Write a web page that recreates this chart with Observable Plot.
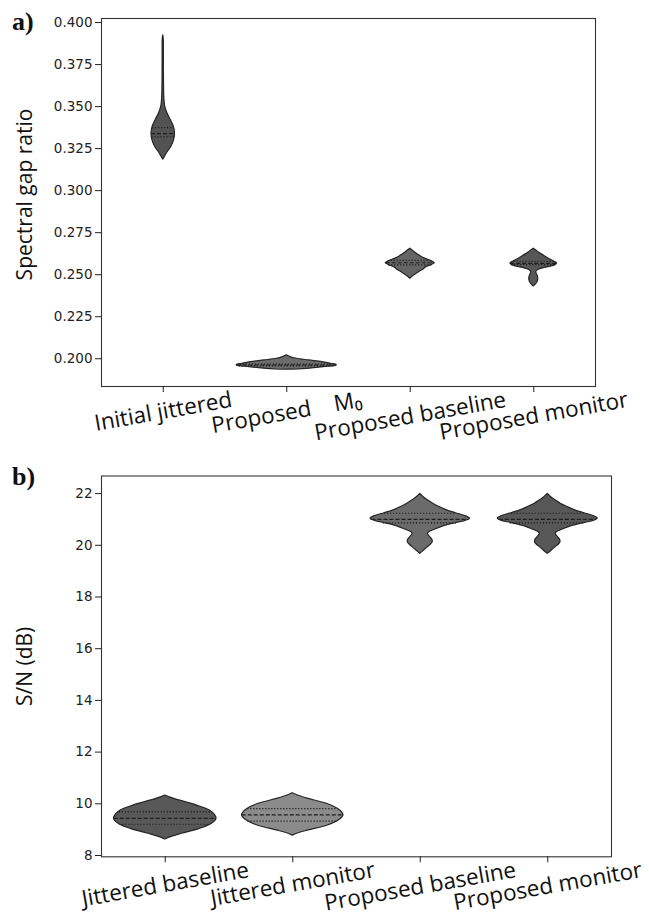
<!DOCTYPE html>
<html><head><meta charset="utf-8">
<script src="https://cdn.jsdelivr.net/npm/d3@7"></script>
<script src="https://cdn.jsdelivr.net/npm/@observablehq/plot@0.6"></script>
<style>
body{margin:0;background:#fff;}
#wrap{position:relative;width:649px;height:918px;overflow:hidden;}
.panel{position:absolute;left:0;}
.tag{position:absolute;font-family:"Liberation Serif","Times New Roman",serif;font-weight:bold;font-size:26px;line-height:1;color:#111;z-index:2;}
</style></head><body>
<div id="wrap">
<div id="pa" class="panel" style="top:0"></div>
<div id="pb" class="panel" style="top:460px"></div>
<div class="tag" style="left:12px;top:9px">a)</div>
<div class="tag" style="left:12px;top:464px">b)</div>
</div>
<script>
// ---------- Panel a data ----------
const catsA = ["Initial jittered", "Proposed\u00A0\u00A0\u00A0\u00A0M\u2080", "Proposed baseline", "Proposed monitor"];
const yTicksA = [0.200, 0.225, 0.250, 0.275, 0.300, 0.325, 0.350, 0.375, 0.400];
const yLabelA = "Spectral gap ratio";
const fillsA = ["#535353", "#6c6c6c", "#656565", "#575757"];
// violin profiles: [value, half-width (category units)]
const profInitialJittered = [[0.3185,0],[0.3200,0.013],[0.3230,0.036],[0.3260,0.065],[0.3300,0.088],[0.3340,0.095],[0.3380,0.086],[0.3420,0.061],[0.3460,0.034],[0.3500,0.016],[0.3550,0.009],[0.3650,0.006],[0.3800,0.005],[0.3900,0.004],[0.3924,0]];
const profProposedM0 = [[0.1935,0],[0.1940,0.16],[0.1950,0.30],[0.1960,0.405],[0.1965,0.40],[0.1970,0.36],[0.1980,0.29],[0.1990,0.18],[0.2000,0.081],[0.2010,0.03],[0.2020,0]];
const profPropBaselineA = [[0.2476,0],[0.2490,0.022],[0.2500,0.040],[0.2516,0.073],[0.2530,0.105],[0.2545,0.130],[0.2558,0.175],[0.2569,0.199],[0.2578,0.180],[0.2589,0.142],[0.2600,0.105],[0.2615,0.073],[0.2630,0.042],[0.2645,0.018],[0.2655,0]];
const profPropMonitorA = [[0.2430,0],[0.2440,0.014],[0.2455,0.030],[0.2470,0.036],[0.2485,0.035],[0.2500,0.028],[0.2515,0.020],[0.2530,0.040],[0.2545,0.120],[0.2557,0.175],[0.2566,0.189],[0.2578,0.165],[0.2590,0.135],[0.2602,0.105],[0.2615,0.078],[0.2630,0.045],[0.2645,0.018],[0.2655,0]];
// quartiles [Q1, median, Q3]
const quartInitialJittered = [0.3320, 0.3339, 0.3375];
const quartProposedM0 = [0.1958, 0.1963, 0.1968];
const quartPropBaselineA = [0.2558, 0.2571, 0.2585];
const quartPropMonitorA = [0.2560, 0.2567, 0.2580];

// ---------- Panel b data ----------
const catsB = ["Jittered baseline", "Jittered monitor", "Proposed baseline", "Proposed monitor"];
const yTicksB = [8, 10, 12, 14, 16, 18, 20, 22];
const yLabelB = "S/N (dB)";
const fillsB = ["#585858", "#8b8b8b", "#6b6b6b", "#575757"];
const profJitBaseline = [[8.62,0],[8.72,0.05],[8.84,0.13],[9.03,0.27],[9.23,0.366],[9.42,0.402],[9.55,0.392],[9.74,0.35],[9.93,0.25],[10.13,0.11],[10.25,0.035],[10.32,0]];
const profJitMonitor = [[8.77,0],[8.87,0.05],[8.97,0.125],[9.16,0.275],[9.35,0.36],[9.55,0.398],[9.68,0.385],[9.81,0.353],[10.0,0.268],[10.19,0.124],[10.32,0.04],[10.41,0]];
const profPropBaselineB = [[19.67,0],[19.80,0.03],[19.92,0.058],[20.02,0.082],[20.12,0.098],[20.22,0.094],[20.33,0.076],[20.44,0.06],[20.52,0.075],[20.60,0.115],[20.73,0.18],[20.86,0.28],[20.95,0.36],[21.03,0.39],[21.12,0.36],[21.24,0.28],[21.35,0.21],[21.47,0.155],[21.60,0.105],[21.73,0.063],[21.85,0.03],[21.99,0]];
const profPropMonitorB = [[19.67,0],[19.80,0.032],[19.92,0.06],[20.02,0.085],[20.12,0.1],[20.22,0.096],[20.33,0.078],[20.44,0.062],[20.52,0.076],[20.60,0.115],[20.73,0.18],[20.86,0.285],[20.95,0.365],[21.04,0.392],[21.13,0.36],[21.25,0.28],[21.36,0.21],[21.48,0.155],[21.60,0.105],[21.73,0.063],[21.85,0.03],[21.99,0]];
const quartJitBaseline = [9.21, 9.44, 9.69];
const quartJitMonitor = [9.33, 9.57, 9.81];
const quartPropBaselineB = [20.87, 21.00, 21.24];
const quartPropMonitorB = [20.87, 21.00, 21.24];

// ---------- helpers ----------
function hwAt(prof, v) {
  for (let i = 1; i < prof.length; i++) {
    const [v0, w0] = prof[i-1], [v1, w1] = prof[i];
    if (v >= v0 && v <= v1) return w0 + (w1 - w0) * (v - v0) / (v1 - v0);
  }
  return 0;
}
const canvas = document.createElement("canvas");
const ctx = canvas.getContext("2d");
const LABEL_FS = 22.5, ROT = 10;
function labelDy(text) {
  ctx.font = `${LABEL_FS}px "Open Sans"`;
  const w = ctx.measureText(text).width;
  const h = LABEL_FS * 1.05;
  const t = ROT * Math.PI / 180;
  return 1.5 + (w * Math.sin(t) + h * Math.cos(t)) / 2;
}

function panel({cats, profs, quarts, fills, yTicks, yFmt, yLabel, yLabelDy, yDomain, width, height, mt, mb, ml, mr}) {
  const marks = [];
  profs.forEach((prof, i) => {
    const rows = prof.map(([v, hw]) => ({v, hw}));
    marks.push(Plot.areaX(rows, {y: "v", x1: d => i - d.hw, x2: d => i + d.hw, fill: fills[i], stroke: "#262626", strokeWidth: 1.2, curve: "catmull-rom"}));
  });
  const qRows = [];
  quarts.forEach((q, i) => q.forEach((v, k) => qRows.push({i, v, k, hw: hwAt(profs[i], v)})));
  marks.push(Plot.ruleY(qRows.filter(d => d.k !== 1), {y: "v", x1: d => d.i - d.hw, x2: d => d.i + d.hw, stroke: "#1e1e1e", strokeWidth: 1.2, strokeDasharray: "1.2,1.8"}));
  marks.push(Plot.ruleY(qRows.filter(d => d.k === 1), {y: "v", x1: d => d.i - d.hw, x2: d => d.i + d.hw, stroke: "#1e1e1e", strokeWidth: 1.2, strokeDasharray: "4,2"}));
  marks.push(Plot.frame({stroke: "#333", strokeWidth: 1.1}));
  marks.push(Plot.axisY(yTicks, {tickFormat: yFmt, tickSize: 6, tickPadding: 3, fontSize: 13.5, fontFamily: "DejaVu Sans", color: "#222", label: null}));
  marks.push(Plot.axisX([0,1,2,3], {tickFormat: () => "", tickSize: 6, color: "#222", label: null}));
  cats.forEach((c, i) => {
    marks.push(Plot.text([c], {x: () => i, text: d => d, frameAnchor: "bottom", dy: labelDy(c), rotate: -ROT, fontSize: LABEL_FS, fontFamily: "Open Sans", fill: "#111", textAnchor: "middle", lineAnchor: "middle"}));
  });
  marks.push(Plot.text([yLabel], {text: d => d, frameAnchor: "left", dx: -76, dy: yLabelDy, rotate: -90, fontSize: 21, fontFamily: "Open Sans", fill: "#111", textAnchor: "middle", lineAnchor: "middle"}));
  return Plot.plot({
    width, height, marginTop: mt, marginBottom: mb, marginLeft: ml, marginRight: mr,
    x: {domain: [-0.5, 3.5]},
    y: {domain: yDomain},
    style: {background: "white", overflow: "visible"},
    marks
  });
}

document.getElementById("pa").appendChild(panel({
  cats: catsA,
  profs: [profInitialJittered, profProposedM0, profPropBaselineA, profPropMonitorA],
  quarts: [quartInitialJittered, quartProposedM0, quartPropBaselineA, quartPropMonitorA],
  fills: fillsA, yTicks: yTicksA, yFmt: d3.format(".3f"), yLabel: yLabelA, yLabelDy: -8,
  yDomain: [0.1835, 0.4024], width: 649, height: 460, mt: 18, mb: 74, ml: 101, mr: 54
}));
document.getElementById("pb").appendChild(panel({
  cats: catsB,
  profs: [profJitBaseline, profJitMonitor, profPropBaselineB, profPropMonitorB],
  quarts: [quartJitBaseline, quartJitMonitor, quartPropBaselineB, quartPropMonitorB],
  fills: fillsB, yTicks: yTicksB, yFmt: d3.format("d"), yLabel: yLabelB, yLabelDy: 0,
  yDomain: [7.95, 22.68], width: 649, height: 458, mt: 15.5, mb: 61.7, ml: 101, mr: 38
}));
</script>
</body></html>
